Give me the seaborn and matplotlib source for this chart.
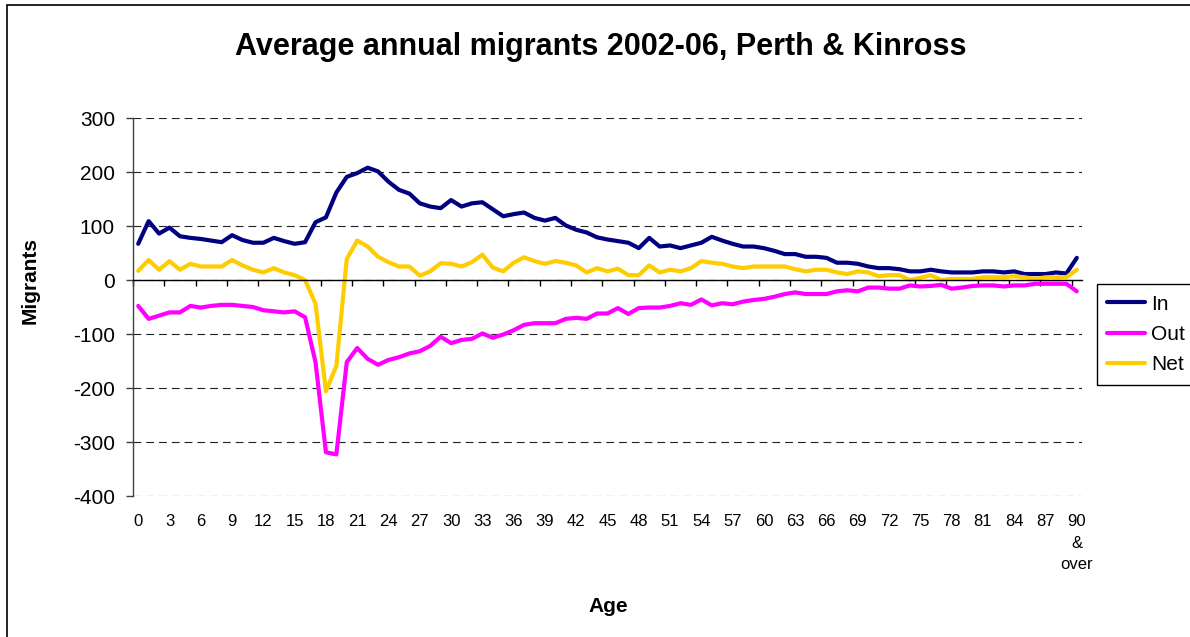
import numpy as np
import pandas as pd
import matplotlib
matplotlib.use('Agg')
import matplotlib.pyplot as plt
import matplotlib.ticker as mticker
from matplotlib.patches import Rectangle
import seaborn as sns

# ── Data ──
ages = list(range(91))
in_migrants = [67, 109, 86, 97, 81, 78, 76, 73, 70, 83,
               74, 69, 69, 78, 72, 67, 70, 107, 116, 162,
               191, 198, 208, 201, 182, 167, 160, 142, 136, 133,
               148, 136, 142, 144, 131, 118, 122, 125, 115, 110,
               115, 101, 93, 88, 79, 75, 72, 69, 59, 78,
               62, 64, 59, 64, 69, 80, 73, 67, 62, 62,
               59, 54, 48, 48, 43, 43, 41, 32, 32, 30,
               25, 22, 22, 20, 16, 16, 19, 16, 14, 14,
               14, 16, 16, 14, 16, 11, 11, 11, 14, 12,
               41]
out_migrants = [-48, -72, -66, -60, -60, -48, -51, -48, -46, -46,
                -48, -50, -56, -58, -60, -58, -69, -152, -319, -323,
                -152, -126, -146, -157, -148, -143, -136, -132, -122, -105,
                -117, -111, -109, -99, -107, -101, -93, -83, -80, -80,
                -80, -72, -70, -72, -62, -62, -52, -63, -52, -51,
                -51, -48, -43, -46, -36, -47, -43, -45, -40, -37,
                -35, -31, -26, -23, -26, -26, -26, -21, -19, -21,
                -14, -14, -16, -16, -10, -12, -11, -9, -16, -14,
                -11, -10, -10, -12, -10, -10, -7, -7, -7, -7,
                -21]
net_migrants = [17, 37, 19, 35, 19, 30, 25, 25, 25, 37,
                27, 19, 14, 22, 14, 9, 0, -44, -206, -159,
                39, 73, 62, 43, 33, 25, 25, 8, 16, 31,
                30, 25, 33, 47, 23, 16, 32, 42, 35, 30,
                35, 32, 27, 14, 22, 16, 21, 9, 9, 27,
                14, 19, 16, 22, 35, 32, 30, 25, 22, 25,
                25, 25, 25, 20, 16, 19, 19, 14, 11, 16,
                14, 7, 9, 9, 0, 4, 9, 0, 2, 2,
                2, 5, 5, 5, 7, 5, 2, 5, 5, 5,
                19]

series_names = ['In', 'Out', 'Net']
colours = ['#000080', '#FF00FF', '#FFCC00']
age_ticks = list(range(0, 91, 3))
age_labels = [str(a) for a in age_ticks[:-1]] + ['90\n&\nover']
y_ticks = list(range(-400, 301, 100))

df = pd.DataFrame({
    'Age': ages * 3,
    'Migrants': in_migrants + out_migrants + net_migrants,
    'Flow': ['In'] * len(ages) + ['Out'] * len(ages) + ['Net'] * len(ages),
})

sns.set_style('white')
plt.rcParams['font.family'] = ['Liberation Sans', 'DejaVu Sans']
plt.rcParams.update({
    'axes.unicode_minus': False,
    'text.color': 'black',
    'axes.labelcolor': 'black',
    'xtick.color': 'black',
    'ytick.color': 'black',
})

W, H = 1190, 637
fig = plt.figure(figsize=(W / 100, H / 100), dpi=100)
ax = fig.add_axes([133 / W, 1 - 496 / H, 949 / W, 378 / H])

sns.lineplot(data=df, x='Age', y='Migrants', hue='Flow', hue_order=series_names,
             palette=colours, linewidth=3, ax=ax)

ax.set_xlim(-0.5, 90.5)
ax.set_ylim(-400, 300)
ax.set_yticks(y_ticks)
ax.yaxis.grid(True, linestyle=(0, (7, 4.5)), color='#222222', linewidth=0.8)
ax.set_axisbelow(True)

for s in ['top', 'right']:
    ax.spines[s].set_visible(False)
ax.spines['left'].set_color('#404040')
ax.spines['left'].set_linewidth(1)
ax.spines['bottom'].set_position(('data', 0))
ax.spines['bottom'].set_color('black')
ax.spines['bottom'].set_linewidth(1)

ax.tick_params(axis='y', direction='out', length=5, width=1, color='#404040',
               labelcolor='black', labelsize=15, pad=8, left=True)
ax.set_xticks(age_ticks)
ax.xaxis.set_minor_locator(mticker.FixedLocator(np.arange(-0.5, 90, 3)))
ax.tick_params(axis='x', which='major', length=0, labelbottom=False)
ax.tick_params(axis='x', which='minor', direction='out', length=4.5, width=1,
               color='black', bottom=True)

sec = ax.secondary_xaxis('bottom')
sec.set_xticks(age_ticks, labels=age_labels)
sec.tick_params(length=0, pad=13, labelsize=12, labelcolor='black')
sec.spines['bottom'].set_visible(False)
for lab in sec.get_xticklabels():
    lab.set_linespacing(1.55)

ax.set_xlabel('Age', fontsize=15, fontweight='bold', color='black')
ax.xaxis.set_label_coords(0.5005, -0.268)
ax.set_ylabel('Migrants', fontsize=15, fontweight='bold', color='black')
ax.yaxis.set_label_coords(-0.098, 0.569)

fig.suptitle('Average annual migrants 2002-06, Perth & Kinross', x=0.505, y=1 - 47 / H,
             va='center', fontsize=22, fontweight='bold', color='black')

handles, labels = ax.get_legend_handles_labels()
leg = ax.legend(handles, labels, loc='center left',
                bbox_to_anchor=(1097 / W, 1 - 334.5 / H), bbox_transform=fig.transFigure,
                frameon=True, fancybox=False, edgecolor='black', framealpha=1,
                fontsize=15, handlelength=1.8, handletextpad=0.3, borderaxespad=0,
                borderpad=0.5, labelspacing=0.55)
leg.get_frame().set_linewidth(1)
for t in leg.get_texts():
    t.set_color('black')

# chart-area border (left and top edges visible in the reference)
fig.patches.append(Rectangle((7 / W, -0.1), 1.2, 1.1 - 5 / H, transform=fig.transFigure,
                             fill=False, edgecolor='black', linewidth=1.2))

fig.savefig('out.png', dpi=100)
